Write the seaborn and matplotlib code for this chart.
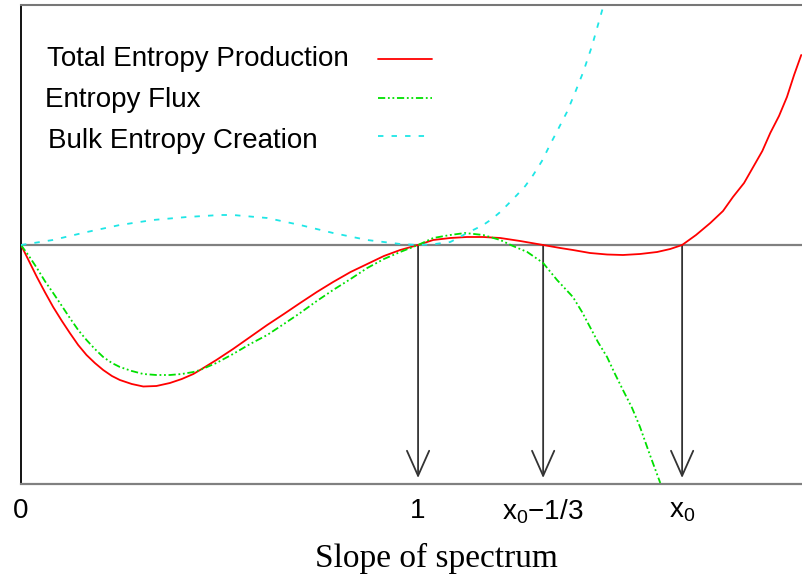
import matplotlib
matplotlib.use("Agg")
import matplotlib.pyplot as plt
import seaborn as sns
import pandas as pd

# values (x = slope, y = arbitrary units)
total_x = [0.0, 0.020, 0.040, 0.060, 0.081, 0.103, 0.123, 0.144, 0.165, 0.186,
           0.207, 0.229, 0.249, 0.279, 0.308, 0.341, 0.375, 0.405, 0.434, 0.451,
           0.492, 0.534, 0.577, 0.620, 0.662, 0.703, 0.745, 0.786, 0.830, 0.872,
           0.914, 0.955, 1.000, 1.038, 1.081, 1.123, 1.164, 1.207, 1.257, 1.315,
           1.358, 1.390, 1.433, 1.476, 1.516, 1.559, 1.602, 1.635, 1.665, 1.700,
           1.736, 1.768, 1.793, 1.821, 1.844, 1.867, 1.887, 1.909, 1.929, 1.947,
           1.965]
total_y = [0.0, -0.16, -0.32, -0.47, -0.62, -0.76, -0.88, -1.00, -1.10, -1.18,
           -1.25, -1.31, -1.35, -1.39, -1.415, -1.41, -1.38, -1.34, -1.29, -1.25,
           -1.15, -1.04, -0.92, -0.80, -0.69, -0.58, -0.47, -0.37, -0.27, -0.19,
           -0.11, -0.05, 0.0, 0.05, 0.07, 0.08, 0.08, 0.07, 0.04, 0.0,
           -0.03, -0.05, -0.08, -0.095, -0.10, -0.09, -0.07, -0.04, 0.0, 0.10,
           0.22, 0.34, 0.48, 0.62, 0.78, 0.94, 1.12, 1.29, 1.48, 1.70,
           1.90]

flux_x = [0.0, 0.020, 0.040, 0.060, 0.081, 0.103, 0.123, 0.144, 0.165, 0.186,
          0.207, 0.229, 0.249, 0.279, 0.308, 0.341, 0.375, 0.405, 0.434, 0.451,
          0.492, 0.534, 0.577, 0.620, 0.662, 0.703, 0.745, 0.786, 0.830, 0.872,
          0.914, 0.955, 1.000, 1.038, 1.081, 1.118, 1.164, 1.207, 1.239, 1.275,
          1.315, 1.350, 1.390, 1.413, 1.433, 1.453, 1.476, 1.496, 1.516, 1.539,
          1.559, 1.584, 1.610]
flux_y = [0.0, -0.11, -0.23, -0.36, -0.48, -0.61, -0.73, -0.85, -0.95, -1.04,
          -1.12, -1.18, -1.22, -1.26, -1.29, -1.30, -1.30, -1.29, -1.27, -1.25,
          -1.18, -1.09, -0.99, -0.90, -0.79, -0.68, -0.56, -0.45, -0.34, -0.23,
          -0.14, -0.07, 0.0, 0.07, 0.10, 0.12, 0.10, 0.05, -0.01, -0.07,
          -0.18, -0.35, -0.52, -0.67, -0.82, -0.97, -1.12, -1.29, -1.45, -1.63,
          -1.82, -2.10, -2.38]

bulk_x = [0.0, 0.080, 0.166, 0.249, 0.332, 0.418, 0.501, 0.534, 0.620, 0.703,
          0.786, 0.872, 0.955, 1.000, 1.043, 1.081, 1.101, 1.123, 1.144, 1.164,
          1.186, 1.207, 1.227, 1.249, 1.270, 1.290, 1.312, 1.332, 1.353, 1.375,
          1.395, 1.416, 1.438, 1.458, 1.466]
bulk_y = [0.0, 0.05, 0.13, 0.20, 0.25, 0.28, 0.30, 0.30, 0.27, 0.20,
          0.12, 0.05, 0.01, 0.0, 0.01, 0.03, 0.07, 0.12, 0.16, 0.20,
          0.26, 0.33, 0.41, 0.50, 0.59, 0.70, 0.84, 1.00, 1.16, 1.33,
          1.52, 1.73, 1.99, 2.27, 2.38]

series_names = ["Total Entropy Production", "Entropy Flux", "Bulk Entropy Creation"]
series_colors = ["#ff0000", "#00e000", "#1ee6e6"]
tick_pos = [0.0, 1.0, 1.315, 1.665]
tick_labels = ["0", "1", r"$\mathregular{x_0}$$\mathregular{-}$1/3", r"$\mathregular{x_0}$"]
arrow_pos = [1.0, 1.315, 1.665]

df = pd.concat([
    pd.DataFrame({"x": total_x, "y": total_y, "series": series_names[0]}),
    pd.DataFrame({"x": flux_x, "y": flux_y, "series": series_names[1]}),
    pd.DataFrame({"x": bulk_x, "y": bulk_y, "series": series_names[2]}),
])

sns.set_theme(style="white")
plt.rcParams["font.family"] = ["Liberation Sans", "DejaVu Sans"]
plt.rcParams["mathtext.fontset"] = "custom"
plt.rcParams["mathtext.rm"] = "Liberation Sans"

fig = plt.figure(figsize=(8.02, 5.78), dpi=100)
ax = fig.add_axes([21 / 802, 1 - 484 / 578, 785 / 802, 479 / 578])

ax.axhline(0, color="#808080", lw=1.6, zorder=1)

dash_map = {
    series_names[0]: "",
    series_names[1]: (4, 1.5, 1, 1.5, 1, 1.5),
    series_names[2]: (3, 4.5),
}
sns.lineplot(data=df, x="x", y="y", hue="series", style="series",
             hue_order=series_names, style_order=series_names,
             palette=dict(zip(series_names, series_colors)), dashes=dash_map,
             estimator=None, sort=False, linewidth=1.3, legend=False, ax=ax,
             zorder=3)

# arrows down from the zero line
for xp in arrow_pos:
    ax.annotate("", xy=(xp, -2.33), xytext=(xp, 0),
                arrowprops=dict(arrowstyle="->,head_length=1.8,head_width=0.8",
                                color="#333333", lw=1.3, shrinkA=0, shrinkB=0,
                                mutation_scale=10), zorder=2)

ax.set_xlim(0, 1.977)
ax.set_ylim(-2.39, 2.40)
ax.set_xticks(tick_pos)
ax.set_xticklabels(tick_labels, fontsize=20, color="black")
ax.set_yticks([])
ax.tick_params(axis="x", length=0, pad=10)
ax.set_ylabel("")
ax.set_xlabel("Slope of spectrum", fontsize=24, family="Liberation Serif",
              color="black")
ax.xaxis.set_label_coords(0.529, -0.122)

ax.spines["left"].set_color("black")
ax.spines["left"].set_linewidth(1.3)
ax.spines["top"].set_color("#777777")
ax.spines["top"].set_linewidth(1.5)
ax.spines["bottom"].set_color("#808080")
ax.spines["bottom"].set_linewidth(1.6)
ax.spines["right"].set_visible(False)

# legend: text on the left, line samples in a column on the right
handles = ax.get_lines()[1:4]
leg = ax.legend(handles, ["", "", ""], loc="upper left",
                bbox_to_anchor=(0.455, 0.905), frameon=False, fontsize=17,
                handlelength=2.3, handletextpad=0, labelspacing=0.7,
                borderpad=0, borderaxespad=0)
label_y = [0.887, 0.802, 0.716]
label_x = [0.033, 0.031, 0.035]
for name, lx, ly in zip(series_names, label_x, label_y):
    ax.text(lx, ly, name, transform=ax.transAxes, fontsize=20,
            ha="left", va="center", color="black")

fig.savefig("out.png", dpi=100)
